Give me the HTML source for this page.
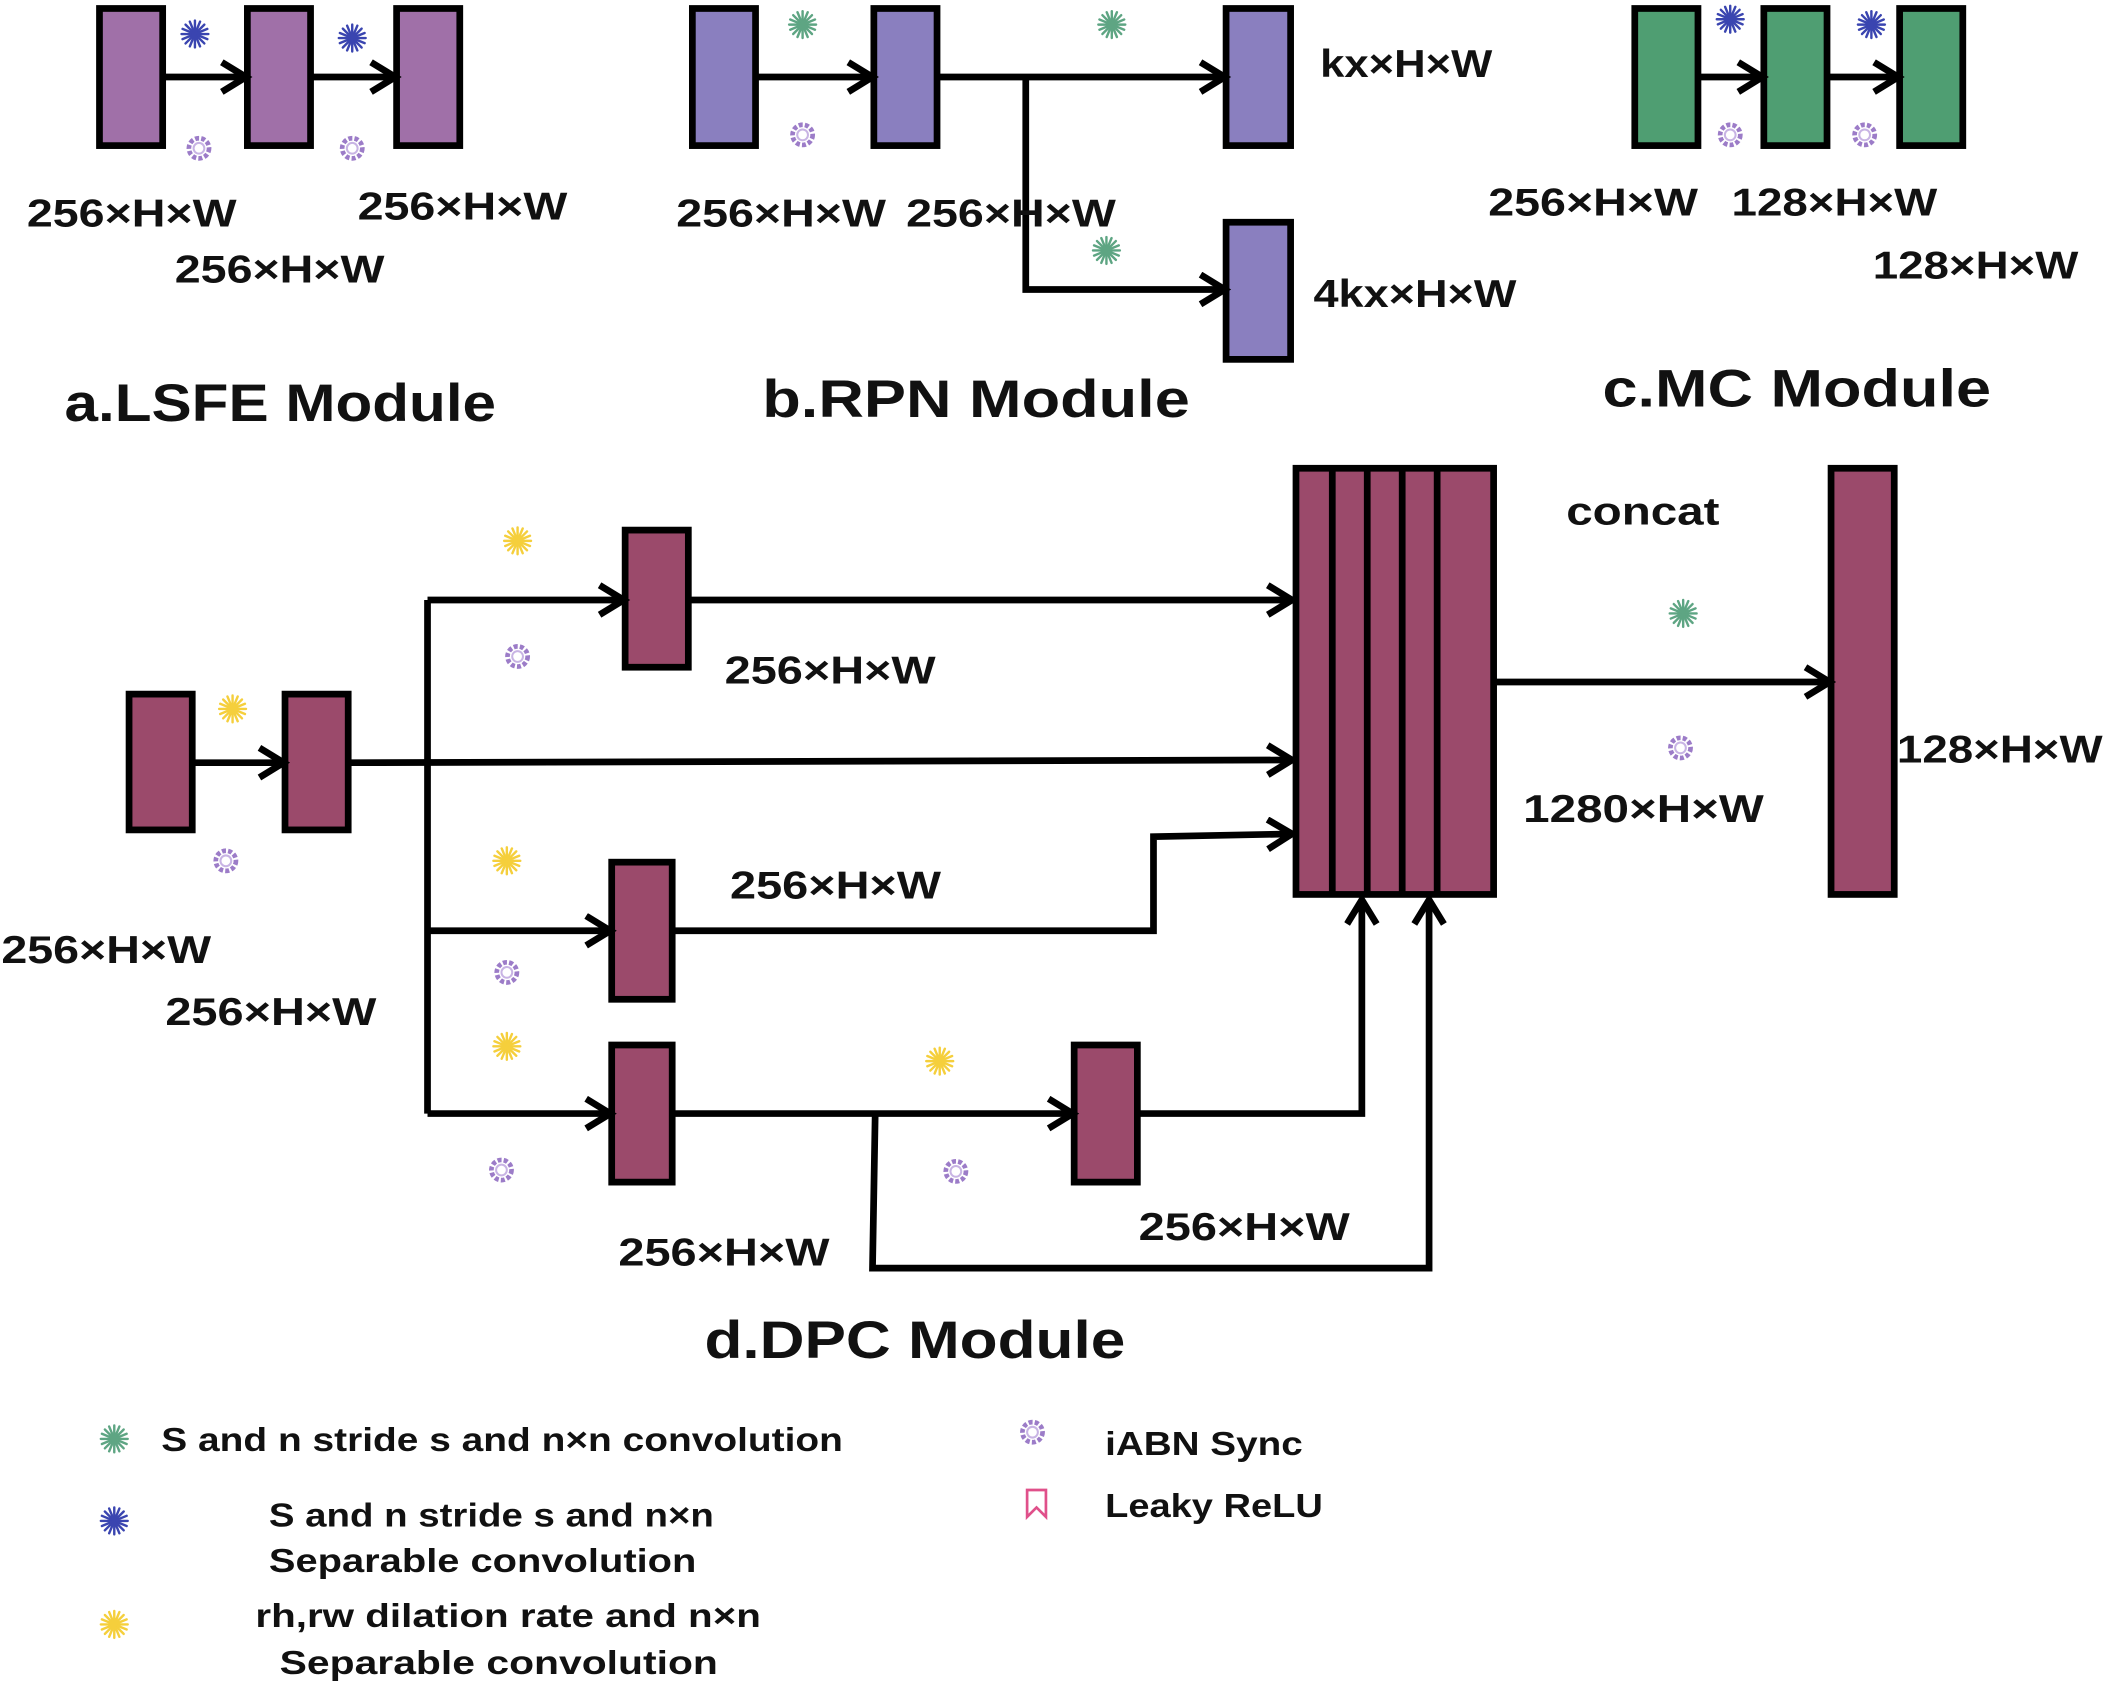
<!DOCTYPE html>
<html><head><meta charset="utf-8"><style>
html,body{margin:0;padding:0;background:#fff;width:2108px;height:1684px;overflow:hidden}
svg{display:block}
text{font-family:"Liberation Sans",sans-serif;font-weight:bold;fill:#111}
</style></head><body>
<svg width="2108" height="1684" viewBox="0 0 1568 1252" xmlns="http://www.w3.org/2000/svg">
<defs>
<marker id="ar" markerUnits="userSpaceOnUse" markerWidth="30" markerHeight="30" refX="20" refY="13" orient="auto">
<path d="M3,2 L21,13 L3,24" fill="none" stroke="#000" stroke-width="5" stroke-linejoin="miter"/>
</marker>
<g id="star"><g stroke-width="1.8" stroke-linecap="round">
<line x1="-10" y1="0" x2="10" y2="0"/><line x1="0" y1="-10" x2="0" y2="10"/>
<line x1="-7" y1="-7" x2="7" y2="7"/><line x1="-7" y1="7" x2="7" y2="-7"/>
<line x1="-9.2" y1="-3.8" x2="9.2" y2="3.8"/><line x1="-9.2" y1="3.8" x2="9.2" y2="-3.8"/>
<line x1="-3.8" y1="-9.2" x2="3.8" y2="9.2"/><line x1="3.8" y1="-9.2" x2="-3.8" y2="9.2"/>
</g></g>
<g id="ring"><circle r="7.5" fill="none" stroke="#9c7cc8" stroke-width="3.5" stroke-dasharray="3 1.6"/><circle r="4" fill="none" stroke="#c8b4e4" stroke-width="1.5"/></g>
</defs>
<g stroke="#000" stroke-width="5" fill="none">
<!-- LSFE -->
<g fill="#a070a8"><rect x="74" y="6" width="47" height="102"/><rect x="184" y="6" width="47" height="102"/><rect x="295" y="6" width="47" height="102"/></g>
<line x1="121" y1="57" x2="182" y2="57" marker-end="url(#ar)"/>
<line x1="231" y1="57" x2="293" y2="57" marker-end="url(#ar)"/>
<!-- RPN -->
<g fill="#8a7fbf"><rect x="515" y="6" width="47" height="102"/><rect x="650" y="6" width="47" height="102"/><rect x="912" y="6" width="48" height="102"/><rect x="912" y="165" width="48" height="102"/></g>
<line x1="562" y1="57" x2="648" y2="57" marker-end="url(#ar)"/>
<line x1="697" y1="57" x2="910" y2="57" marker-end="url(#ar)"/>
<polyline points="763,57 763,215 910,215" marker-end="url(#ar)"/>
<!-- MC -->
<g fill="#4f9e72"><rect x="1216" y="6" width="47" height="102"/><rect x="1312" y="6" width="47" height="102"/><rect x="1413" y="6" width="47" height="102"/></g>
<line x1="1263" y1="57" x2="1310" y2="57" marker-end="url(#ar)"/>
<line x1="1359" y1="57" x2="1411" y2="57" marker-end="url(#ar)"/>
<!-- DPC -->
<g fill="#9b4a6b">
<rect x="96" y="516" width="47" height="101"/><rect x="212" y="516" width="47" height="101"/>
<rect x="465" y="394" width="47" height="102"/><rect x="455" y="641" width="45" height="102"/>
<rect x="455" y="777" width="45" height="102"/><rect x="799" y="777" width="47" height="102"/>
<rect x="964" y="348" width="147" height="317"/><rect x="1362" y="348" width="47" height="317"/>
</g>
<line x1="991" y1="348" x2="991" y2="665"/><line x1="1017" y1="348" x2="1017" y2="665"/>
<line x1="1043" y1="348" x2="1043" y2="665"/><line x1="1069" y1="348" x2="1069" y2="665"/>
<line x1="143" y1="567" x2="210" y2="567" marker-end="url(#ar)"/>
<line x1="259" y1="567" x2="960" y2="565" marker-end="url(#ar)"/>
<line x1="318" y1="446" x2="318" y2="828"/>
<line x1="318" y1="446" x2="463" y2="446" marker-end="url(#ar)"/>
<line x1="512" y1="446" x2="960" y2="446" marker-end="url(#ar)"/>
<line x1="318" y1="692" x2="453" y2="692" marker-end="url(#ar)"/>
<polyline points="500,692 858,692 858,622 960,620" marker-end="url(#ar)"/>
<line x1="318" y1="828" x2="453" y2="828" marker-end="url(#ar)"/>
<line x1="500" y1="828" x2="797" y2="828" marker-end="url(#ar)"/>
<polyline points="846,828 1013,828 1013,670" marker-end="url(#ar)"/>
<polyline points="651,828 649,943 1063,943 1063,670" marker-end="url(#ar)"/>
<line x1="1111" y1="507" x2="1360" y2="507" marker-end="url(#ar)"/>
</g>
<!-- icons -->
<g stroke="#3a45b0"><use href="#star" x="145" y="25"/><use href="#star" x="262" y="28"/><use href="#star" x="1287" y="14"/><use href="#star" x="1392" y="18"/><use href="#star" x="85" y="1131"/></g>
<g stroke="#5ea583"><use href="#star" x="597" y="18"/><use href="#star" x="827" y="18"/><use href="#star" x="823" y="186"/><use href="#star" x="1252" y="456"/><use href="#star" x="85" y="1070"/></g>
<g stroke="#f5cf3c"><use href="#star" x="385" y="402"/><use href="#star" x="173" y="527"/><use href="#star" x="377" y="640"/><use href="#star" x="377" y="778"/><use href="#star" x="699" y="789"/><use href="#star" x="85" y="1208"/></g>
<use href="#ring" x="148" y="110"/><use href="#ring" x="262" y="110"/><use href="#ring" x="597" y="100"/>
<use href="#ring" x="1287" y="100"/><use href="#ring" x="1387" y="100"/>
<use href="#ring" x="385" y="488"/><use href="#ring" x="168" y="640"/><use href="#ring" x="377" y="723"/>
<use href="#ring" x="373" y="870"/><use href="#ring" x="711" y="871"/><use href="#ring" x="1250" y="556"/>
<use href="#ring" x="768" y="1065"/>
<path d="M764,1108 L778,1108 L778,1128 L771,1121 L764,1128 Z" fill="none" stroke="#e0508a" stroke-width="2"/>
<!-- labels -->
<g font-size="29">
<text x="20" y="168" textLength="156" lengthAdjust="spacingAndGlyphs">256×H×W</text>
<text x="266" y="163" textLength="156" lengthAdjust="spacingAndGlyphs">256×H×W</text>
<text x="130" y="210" textLength="156" lengthAdjust="spacingAndGlyphs">256×H×W</text>
<text x="503" y="168" textLength="156" lengthAdjust="spacingAndGlyphs">256×H×W</text>
<text x="674" y="168" textLength="156" lengthAdjust="spacingAndGlyphs">256×H×W</text>
<text x="982" y="57" textLength="128" lengthAdjust="spacingAndGlyphs">kx×H×W</text>
<text x="977" y="228" textLength="151" lengthAdjust="spacingAndGlyphs">4kx×H×W</text>
<text x="1107" y="160" textLength="156" lengthAdjust="spacingAndGlyphs">256×H×W</text>
<text x="1288" y="160" textLength="153" lengthAdjust="spacingAndGlyphs">128×H×W</text>
<text x="1393" y="207" textLength="153" lengthAdjust="spacingAndGlyphs">128×H×W</text>
<text x="539" y="508" textLength="157" lengthAdjust="spacingAndGlyphs">256×H×W</text>
<text x="543" y="668" textLength="157" lengthAdjust="spacingAndGlyphs">256×H×W</text>
<text x="1" y="716" textLength="156" lengthAdjust="spacingAndGlyphs">256×H×W</text>
<text x="123" y="762" textLength="157" lengthAdjust="spacingAndGlyphs">256×H×W</text>
<text x="460" y="941" textLength="157" lengthAdjust="spacingAndGlyphs">256×H×W</text>
<text x="847" y="922" textLength="157" lengthAdjust="spacingAndGlyphs">256×H×W</text>
<text x="1133" y="611" textLength="179" lengthAdjust="spacingAndGlyphs">1280×H×W</text>
<text x="1411" y="567" textLength="153" lengthAdjust="spacingAndGlyphs">128×H×W</text>
<text x="1165" y="390" textLength="114" lengthAdjust="spacingAndGlyphs">concat</text>
</g>
<g font-size="39">
<text x="48" y="313" textLength="321" lengthAdjust="spacingAndGlyphs">a.LSFE Module</text>
<text x="567" y="310" textLength="318" lengthAdjust="spacingAndGlyphs">b.RPN Module</text>
<text x="1192" y="302" textLength="289" lengthAdjust="spacingAndGlyphs">c.MC Module</text>
<text x="524" y="1010" textLength="313" lengthAdjust="spacingAndGlyphs">d.DPC Module</text>
</g>
<g font-size="25">
<text x="120" y="1079" textLength="507" lengthAdjust="spacingAndGlyphs">S and n stride s and n×n convolution</text>
<text x="200" y="1135" textLength="331" lengthAdjust="spacingAndGlyphs">S and n stride s and n×n</text>
<text x="200" y="1169" textLength="318" lengthAdjust="spacingAndGlyphs">Separable convolution</text>
<text x="190" y="1210" textLength="376" lengthAdjust="spacingAndGlyphs">rh,rw dilation rate  and n×n</text>
<text x="208" y="1245" textLength="326" lengthAdjust="spacingAndGlyphs">Separable  convolution</text>
<text x="822" y="1082" textLength="147" lengthAdjust="spacingAndGlyphs">iABN Sync</text>
<text x="822" y="1128" textLength="162" lengthAdjust="spacingAndGlyphs">Leaky ReLU</text>
</g>
</svg>
</body></html>
